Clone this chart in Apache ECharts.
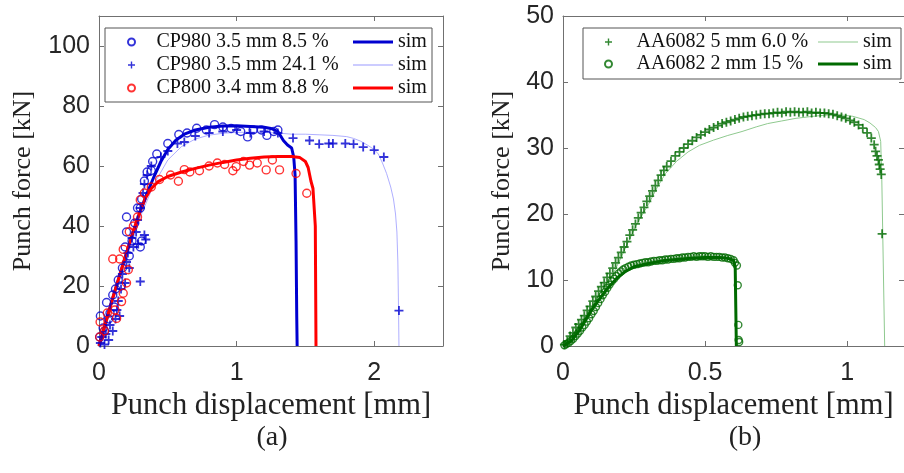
<!DOCTYPE html>
<html lang="en">
  <head>
    <meta charset="UTF-8" />
    <title>Punch force vs displacement</title>
    <style>
      body {
        margin: 0;
        background: #fff;
      }
      #main {
        width: 904px;
        height: 473px;
      }
    </style>
  </head>
  <body>
    <div id="main"></div>
    <script src="https://cdn.jsdelivr.net/npm/echarts@6/dist/echarts.min.js"></script>
    <script>
      // ---- data (a): CP980 / CP800, [displacement mm, force kN]
      const cp980a_exp = [
        [0.005, 3], [0.01, 10], [0.03, 6], [0.04, 5], [0.055, 14.5], [0.07, 9], [0.08, 11],
        [0.1, 17], [0.11, 13], [0.12, 19], [0.14, 22], [0.16, 20], [0.17, 26], [0.19, 33],
        [0.2, 38], [0.2, 43], [0.22, 30], [0.24, 35], [0.26, 41], [0.28, 46], [0.3, 33],
        [0.31, 35], [0.3, 46], [0.31, 49], [0.33, 55], [0.35, 58], [0.38, 58.5], [0.39, 61.5],
        [0.42, 64], [0.5, 67.5], [0.58, 70.5], [0.64, 71], [0.71, 72.6], [0.78, 72],
        [0.84, 73.8], [0.9, 73], [0.96, 72.5], [1.03, 71.5], [1.08, 69.7], [1.12, 72],
        [1.18, 72], [1.22, 70.2], [1.27, 71.5], [1.3, 72]
      ];
      const cp980a_sim = [
        [0, 0], [0.1, 16], [0.2, 31], [0.3, 45], [0.35, 51], [0.4, 56.5], [0.45, 61.5],
        [0.5, 65.5], [0.56, 68.7], [0.62, 70.6], [0.7, 72], [0.8, 72.9], [0.9, 73.3],
        [1.0, 73.4], [1.1, 73.2], [1.2, 72.9], [1.25, 72.5], [1.3, 71.5], [1.32, 70],
        [1.34, 68.5], [1.37, 67], [1.4, 66], [1.415, 63], [1.425, 57], [1.432, 35],
        [1.437, 10], [1.44, 0]
      ];
      const cp980b_exp = [
        [0.01, 1], [0.02, 3], [0.04, 0.5], [0.05, 4], [0.07, 2], [0.08, 7], [0.1, -1],
        [0.1, 5], [0.12, 9], [0.13, 12], [0.14, 15], [0.15, 10], [0.16, 19], [0.17, 24],
        [0.19, 21], [0.2, 28], [0.21, 31], [0.22, 26], [0.24, 36], [0.25, 33], [0.27, 38],
        [0.28, 42], [0.285, 34], [0.3, 21.5], [0.3, 46], [0.32, 51], [0.33, 37], [0.34, 35.5],
        [0.33, 54], [0.35, 57], [0.38, 60], [0.45, 63], [0.5, 65], [0.57, 67.5], [0.62, 68],
        [0.7, 70], [0.8, 71], [0.9, 71.5], [1.0, 72], [1.1, 71], [1.2, 71.5], [1.3, 71],
        [1.41, 69.3], [1.53, 68.5], [1.6, 67.3], [1.67, 67.5], [1.7, 67.5], [1.79, 67.5],
        [1.85, 67.3], [1.92, 66.3], [2.0, 65.3], [2.07, 63], [2.18, 11.8]
      ];
      const cp980b_sim = [
        [0, 0], [0.1, 15], [0.2, 29], [0.3, 43], [0.4, 54], [0.5, 62], [0.6, 66.5],
        [0.7, 69], [0.8, 70.3], [0.9, 70.9], [1.0, 71.2], [1.1, 71.3], [1.2, 71.2],
        [1.3, 71], [1.4, 70.6], [1.5, 70.6], [1.6, 70.4], [1.7, 70.2], [1.8, 69.8],
        [1.85, 69.2], [1.9, 68.3], [1.95, 67], [2.0, 65.5], [2.03, 64], [2.06, 61],
        [2.09, 57.5], [2.12, 53], [2.14, 49], [2.155, 44], [2.165, 38], [2.172, 28],
        [2.177, 12], [2.18, 0]
      ];
      const cp800_exp = [
        [0.005, 3], [0.008, 8], [0.04, 5], [0.06, 11], [0.1, 29], [0.116, 12], [0.128, 9.2],
        [0.15, 29], [0.164, 14.8], [0.176, 17.6], [0.176, 32.2], [0.2, 21], [0.213, 25.4],
        [0.22, 38.1], [0.25, 40], [0.28, 43], [0.3, 48.7], [0.33, 51], [0.38, 53],
        [0.44, 55.5], [0.52, 57], [0.577, 54.9], [0.62, 58.8], [0.66, 58], [0.73, 58.4],
        [0.8, 60], [0.86, 61], [0.913, 60.5], [0.973, 58.4], [0.997, 59.8], [1.05, 61.5],
        [1.094, 60.3], [1.15, 61], [1.215, 58.7], [1.26, 62], [1.312, 58.7], [1.432, 57.5],
        [1.51, 50.9]
      ];
      const cp800_sim = [
        [0, 0], [0.05, 8], [0.1, 16], [0.15, 23.5], [0.2, 31], [0.25, 38.5], [0.3, 45],
        [0.34, 49.5], [0.38, 52.5], [0.43, 54.8], [0.5, 56.5], [0.6, 58], [0.7, 59.2],
        [0.8, 60.3], [0.9, 61.2], [1.0, 62], [1.1, 62.6], [1.2, 63], [1.3, 63.2], [1.4, 63.2],
        [1.46, 62.8], [1.5, 61.5], [1.52, 59.5], [1.54, 55], [1.555, 52.5], [1.565, 52],
        [1.572, 40], [1.577, 0]
      ];

      // ---- data (b): AA6082
      const aa5_exp = [
        [0.005, 0.2], [0.015, 0.7], [0.025, 1.5], [0.035, 2.0], [0.045, 2.8], [0.055, 3.3],
        [0.065, 4.0], [0.075, 4.6], [0.085, 5.4], [0.095, 6.0], [0.105, 6.8], [0.115, 7.5],
        [0.125, 8.3], [0.135, 9.0], [0.145, 9.6], [0.155, 10.4], [0.165, 11.0], [0.175, 11.8],
        [0.185, 12.6], [0.195, 13.4], [0.205, 14.2], [0.215, 15.0], [0.225, 15.8], [0.235, 16.8],
        [0.245, 17.6], [0.255, 18.5], [0.265, 19.4], [0.275, 20.2], [0.285, 21.0], [0.295, 21.9],
        [0.305, 22.7], [0.315, 23.5], [0.325, 24.3], [0.335, 25.1], [0.345, 25.9], [0.355, 26.6],
        [0.365, 27.2], [0.38, 28.0], [0.395, 28.8], [0.41, 29.4], [0.425, 30.0], [0.44, 30.6],
        [0.455, 31.1], [0.47, 31.6], [0.485, 32.0], [0.5, 32.4], [0.515, 32.8], [0.53, 33.1],
        [0.545, 33.4], [0.56, 33.7], [0.575, 33.9], [0.59, 34.1], [0.605, 34.3], [0.62, 34.5],
        [0.635, 34.7], [0.65, 34.8], [0.665, 34.9], [0.68, 35.0], [0.695, 35.1], [0.71, 35.2],
        [0.725, 35.2], [0.74, 35.3], [0.755, 35.4], [0.77, 35.3], [0.785, 35.5], [0.8, 35.4],
        [0.815, 35.5], [0.83, 35.4], [0.845, 35.4], [0.86, 35.5], [0.875, 35.3], [0.89, 35.4],
        [0.905, 35.3], [0.92, 35.3], [0.935, 35.2], [0.95, 35.1], [0.965, 34.9], [0.98, 34.7],
        [0.995, 34.5], [1.01, 34.2], [1.025, 33.9], [1.04, 33.5], [1.055, 33.0], [1.07, 32.3],
        [1.085, 31.5], [1.095, 30.5], [1.1, 29.5], [1.105, 28.8], [1.11, 28.2], [1.113, 27.5],
        [1.116, 26.8], [1.12, 26.0], [1.123, 17.0]
      ];
      const aa5_sim = [
        [0, 0], [0.03, 1.3], [0.06, 3], [0.1, 5.3], [0.13, 7.2], [0.16, 9.5], [0.2, 13],
        [0.23, 15.8], [0.26, 18.5], [0.3, 21.4], [0.33, 23.9], [0.36, 26.1], [0.4, 28],
        [0.44, 29.4], [0.48, 30.4], [0.53, 31.2], [0.58, 31.9], [0.63, 32.5], [0.68, 33.2],
        [0.72, 33.7], [0.77, 34.1], [0.82, 34.5], [0.88, 34.8], [0.93, 35], [0.98, 35],
        [1.02, 34.8], [1.06, 34.3], [1.08, 33.8], [1.1, 33.1], [1.11, 32.5], [1.118, 31],
        [1.122, 25], [1.126, 15], [1.13, 5], [1.132, 0]
      ];
      const aa2_exp = [
        [0.005, 0.1], [0.012, 0.3], [0.02, 0.5], [0.028, 0.8], [0.036, 1.1], [0.044, 1.5],
        [0.052, 1.9], [0.06, 2.3], [0.068, 2.8], [0.076, 3.2], [0.084, 3.7], [0.092, 4.2],
        [0.1, 4.8], [0.108, 5.3], [0.116, 5.9], [0.124, 6.5], [0.132, 7.1], [0.14, 7.7],
        [0.148, 8.2], [0.156, 8.8], [0.164, 9.3], [0.172, 9.8], [0.18, 10.2], [0.188, 10.6],
        [0.196, 11.0], [0.204, 11.3], [0.212, 11.6], [0.22, 11.8], [0.23, 12.0], [0.24, 12.2],
        [0.25, 12.3], [0.26, 12.4], [0.27, 12.5], [0.28, 12.6], [0.29, 12.7], [0.3, 12.7],
        [0.31, 12.8], [0.32, 12.9], [0.33, 12.9], [0.34, 13.0], [0.35, 13.0], [0.36, 13.1],
        [0.37, 13.1], [0.38, 13.2], [0.39, 13.2], [0.4, 13.3], [0.41, 13.3], [0.42, 13.4],
        [0.43, 13.4], [0.44, 13.5], [0.45, 13.5], [0.46, 13.6], [0.47, 13.5], [0.48, 13.6],
        [0.49, 13.6], [0.5, 13.6], [0.51, 13.5], [0.52, 13.6], [0.53, 13.5], [0.54, 13.5],
        [0.55, 13.5], [0.56, 13.4], [0.57, 13.4], [0.58, 13.3], [0.59, 13.2], [0.6, 13.0],
        [0.605, 12.6], [0.612, 12.2], [0.615, 9.2], [0.617, 3.2], [0.618, 0.9], [0.62, 0.6]
      ];
      const aa2_sim = [
        [0, 0], [0.03, 0.8], [0.06, 2.5], [0.1, 5.4], [0.13, 7.2], [0.16, 8.9], [0.19, 10.3],
        [0.22, 11.3], [0.25, 12.0], [0.3, 12.5], [0.35, 12.9], [0.4, 13.1], [0.45, 13.3],
        [0.5, 13.4], [0.55, 13.4], [0.58, 13.3], [0.6, 13.0], [0.606, 12.0], [0.608, 6],
        [0.61, 0]
      ];

      const xTicksA = { min: 0, max: 2.5, interval: 1 };
      const yTicksA = { min: 0, max: 110, interval: 20 };
      const xTicksB = { min: 0, max: 1.2, interval: 0.5 };
      const yTicksB = { min: 0, max: 50, interval: 10 };

      const SERIF = '"Liberation Serif", "DejaVu Serif", serif';
      const SANS = '"Liberation Sans", Arial, sans-serif';
      const BLUE = "#0000d0";
      const LBLUE = "#9a9aff";
      const RED = "#ff0000";
      const GREEN = "#006a00";
      const LGREEN = "#8fc98f";
      const AXIS = "#707070";
      const CROSS = "path://M4,0H6V4H10V6H6V10H4V6H0V4H4Z";
      const THICK = "path://M0,0H40V3H0Z";
      const THIN = "path://M0,0H40V0.8H0Z";

      const chart = echarts.init(document.getElementById("main"));

      function axes(gi, ticks, isX, name, gap, nameSize) {
        const main = {
          type: "value",
          gridIndex: gi,
          min: ticks.min,
          max: ticks.max,
          interval: ticks.interval,
          position: isX ? "bottom" : "left",
          name: name,
          nameLocation: "middle",
          nameGap: gap,
          nameMoveOverlap: false,
          nameTextStyle: { fontFamily: SERIF, fontSize: nameSize, color: "#222" },
          axisLine: { show: true, onZero: false, lineStyle: { color: AXIS, width: 1 } },
          axisTick: { show: true, inside: true, length: 5, lineStyle: { color: AXIS } },
          axisLabel: {
            fontFamily: SANS,
            fontSize: 25,
            color: "#262626",
            margin: isX ? 15 : 9,
            showMaxLabel: ticks.max % ticks.interval === 0,
          },
          splitLine: { show: false },
        };
        const mirror = {
          type: "value",
          gridIndex: gi,
          min: ticks.min,
          max: ticks.max,
          interval: ticks.interval,
          position: isX ? "top" : "right",
          axisLine: { show: true, onZero: false, lineStyle: { color: AXIS, width: 1 } },
          axisTick: { show: true, inside: true, length: 5, lineStyle: { color: AXIS } },
          axisLabel: { show: false },
          splitLine: { show: false },
        };
        return [main, mirror];
      }

      function marker(name, data, x, y, symbol, size, color) {
        return {
          name: name,
          type: "scatter",
          xAxisIndex: x,
          yAxisIndex: y,
          data: data,
          symbol: symbol,
          symbolSize: size,
          itemStyle:
            symbol === "circle"
              ? { color: "rgba(0,0,0,0)", borderColor: color, borderWidth: 1.4 }
              : { color: color },
          z: 3,
        };
      }

      function sim(name, data, x, y, color, width) {
        return {
          name: name,
          type: "line",
          xAxisIndex: x,
          yAxisIndex: y,
          data: data,
          symbol: "none",
          showSymbol: false,
          lineStyle: { color: color, width: width },
          itemStyle: { color: color },
          z: 2,
        };
      }

      function legend(items, left, top, w, h, gap, fmt) {
        return {
          data: items,
          orient: "vertical",
          left: left,
          top: top,
          itemWidth: w,
          itemHeight: h,
          itemGap: gap,
          selectedMode: false,
          formatter: fmt,
          textStyle: { fontFamily: SERIF, fontSize: 20, lineHeight: 20, color: "#111" },
          z: 10,
        };
      }

      const nA = ["CP980 3.5 mm 8.5 %", "CP980 3.5 mm 24.1 %", "CP800 3.4 mm 8.8 %"];
      const sA = nA.map((n) => "sim " + n);
      const nB = ["AA6082 5 mm 6.0 %", "AA6082 2 mm 15 %"];
      const sB = nB.map((n) => "sim " + n);

      const xa = axes(0, xTicksA, true, "Punch displacement [mm]", 44, 30.5);
      const ya = axes(0, yTicksA, false, "Punch force [kN]", 63, 26);
      const xb = axes(1, xTicksB, true, "Punch displacement [mm]", 44, 30.5);
      const yb = axes(1, yTicksB, false, "Punch force [kN]", 48, 26);

      const option = {
        animation: false,
        backgroundColor: "#fff",
        grid: [
          { left: 99, top: 16, width: 344, height: 330 },
          { left: 563, top: 16, width: 345.6, height: 330 },
        ],
        xAxis: [xa[0], xa[1], xb[0], xb[1]],
        yAxis: [ya[0], ya[1], yb[0], yb[1]],
        legend: [
          legend(nA, 122, 27, 40, 7, 3),
          legend(
            [
              { name: sA[0], icon: THICK },
              { name: sA[1], icon: THIN },
              { name: sA[2], icon: THICK },
            ],
            348, 27, 40, 8, 3, () => "sim"
          ),
          legend(nB, 599, 27, 46, 7, 2),
          legend(
            [
              { name: sB[0], icon: THIN },
              { name: sB[1], icon: THICK },
            ],
            813, 27, 40, 8, 2, () => "sim"
          ),
        ],
        graphic: [
          { type: "rect", z: 5, shape: { x: 105, y: 28, width: 327, height: 74 }, style: { fill: "#fff", stroke: "#555", lineWidth: 1 } },
          { type: "rect", z: 5, shape: { x: 583, y: 28, width: 318, height: 51 }, style: { fill: "#fff", stroke: "#555", lineWidth: 1 } },
          { type: "text", z: 5, x: 272, y: 438, style: { text: "(a)", font: '28px "Liberation Serif", serif', fill: "#222", align: "center", verticalAlign: "middle" } },
          { type: "text", z: 5, x: 745, y: 438, style: { text: "(b)", font: '28px "Liberation Serif", serif', fill: "#222", align: "center", verticalAlign: "middle" } },
        ],
        series: [
          marker(nA[0], cp980a_exp, 0, 0, "circle", 8, BLUE),
          marker(nA[1], cp980b_exp, 0, 0, CROSS, 9, BLUE),
          marker(nA[2], cp800_exp, 0, 0, "circle", 8, RED),
          sim(sA[0], cp980a_sim, 0, 0, BLUE, 3),
          sim(sA[1], cp980b_sim, 0, 0, LBLUE, 0.8),
          sim(sA[2], cp800_sim, 0, 0, RED, 3),
          marker(nB[0], aa5_exp, 2, 2, CROSS, 9, GREEN),
          marker(nB[1], aa2_exp, 2, 2, "circle", 7, GREEN),
          sim(sB[0], aa5_sim, 2, 2, LGREEN, 1),
          sim(sB[1], aa2_sim, 2, 2, GREEN, 3),
        ],
      };
      chart.setOption(option);
    </script>
  </body>
</html>
